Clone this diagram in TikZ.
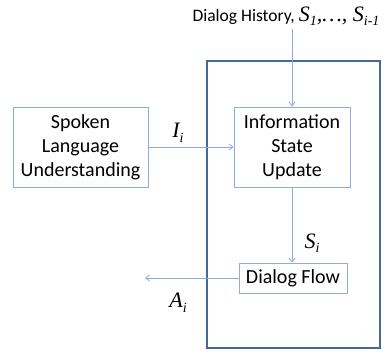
\documentclass[tikz,border=0pt]{standalone}
\usepackage{fontspec}
\setmainfont{Carlito}
\newfontfamily\symfont{Liberation Serif}
\usetikzlibrary{arrows.meta,positioning}

\definecolor{boxblue}{RGB}{141,172,216}
\definecolor{frameblue}{RGB}{70,104,150}

\tikzset{
    blk/.style={draw=boxblue, line width=0.8pt, align=center, font=\fontsize{20}{24}\selectfont},
    flowline/.style={draw=boxblue, line width=0.8pt, -{Straight Barb[length=4pt,width=6pt]}},
    sym/.style={font=\fontsize{22}{24}\symfont\itshape}
}
\newcommand{\sub}[1]{\raisebox{-0.45ex}{\fontsize{14}{14}\selectfont #1}}

\begin{document}
\begin{tikzpicture}[x=1pt, y=-1pt]
    \useasboundingbox (0,0) rectangle (386,354);

    % outer frame of the dialog manager
    \draw[frameblue, line width=1.8pt] (207,61) rectangle (380,348);

    % modules
    \node[blk, minimum width=135pt, minimum height=80pt] (slu) at (80.5,147) {Spoken\\Language\\Understanding};
    \node[blk, minimum width=116pt, minimum height=80pt] (isu) at (292,147) {Information\\State\\Update};
    \node[blk, minimum width=108pt, minimum height=30pt, inner sep=1pt] (flow) at (293,278) {Dialog Flow};

    % history input
    \node[font=\fontsize{17.5}{20}\selectfont, anchor=base] (hist) at (286,21)
        {Dialog History, {\fontsize{22}{24}\symfont\itshape S\sub{1},\ldots, S\sub{i-1}}};
    \coordinate (out) at (145,278);

    % connectors
    \draw[flowline] (isu.north |- 0,29) -- (isu.north);
    \draw[flowline] (slu) -- (isu);
    \draw[flowline] (isu.south) -- (flow.north -| isu.south);
    \draw[flowline] (flow) -- (out);

    % labels
    \node[sym] (ilab) at (178,133) {I\sub{i}};
    \node[sym] (slab) at (312,243) {S\sub{i}};
    \node[sym] (alab) at (178,303) {A\sub{i}};
\end{tikzpicture}
\end{document}
